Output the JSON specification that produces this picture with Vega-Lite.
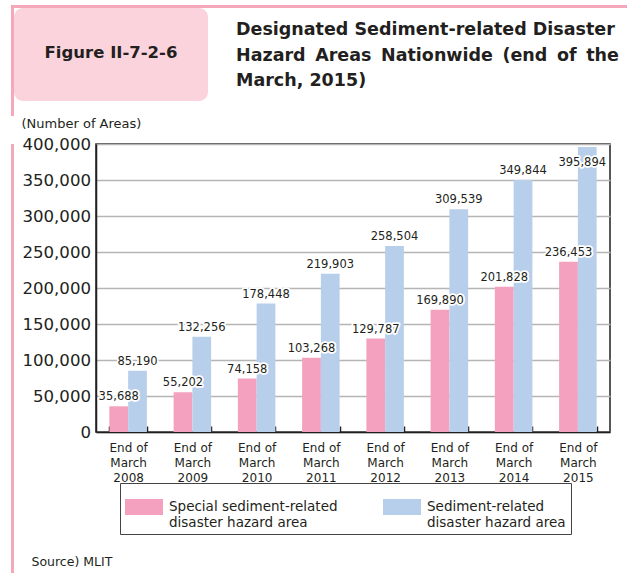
{
  "$schema": "https://vega.github.io/schema/vega-lite/v6.json",
  "background": "white",
  "padding": {"left": 11, "top": 5, "right": 0, "bottom": 0},
  "spacing": 0,
  "config": {
    "font": "DejaVu Sans",
    "view": {"stroke": null},
    "concat": {"spacing": 0}
  },
  "vconcat": [
    {
      "width": 616,
      "height": 3,
      "view": {"fill": "#f4a8b9", "stroke": null},
      "data": {"values": []},
      "mark": "rect",
      "encoding": {}
    },
    {
      "spacing": 0,
      "hconcat": [
        {
          "width": 3,
          "height": 108,
          "view": {"fill": "#f4a8b9", "stroke": null},
          "data": {"values": []},
          "mark": "rect",
          "encoding": {}
        },
        {
          "width": 194,
          "height": 93,
          "view": {"fill": "#fad3dc", "stroke": null, "cornerRadius": 9},
          "data": {"values": [{"label": "Figure II-7-2-6"}]},
          "mark": {"type": "text", "fontSize": 16.5, "fontWeight": "bold", "color": "#231f20", "dy": -2},
          "encoding": {"text": {"field": "label"}}
        },
        {
          "width": 1,
          "height": 93,
          "data": {"values": [{"heading": ["Designated Sediment-related Disaster", "Hazard \u2009Areas \u2009Nationwide \u2009(end \u2009of \u2009the", "March, 2015)"]}]},
          "mark": {"type": "text", "align": "left", "baseline": "middle", "lineHeight": 25.5, "dx": 27.5, "dy": -24.5, "fontSize": 17.5, "fontWeight": "bold", "color": "#231f20"},
          "encoding": {"text": {"field": "heading"}}
        }
      ]
    },
    {
      "spacing": 6,
      "hconcat": [
        {
          "width": 3,
          "height": 470,
          "view": {"fill": "#f4a8b9", "stroke": null},
          "data": {"values": []},
          "mark": "rect",
          "encoding": {}
        },
        {
          "width": 514,
          "height": 288,
          "view": {"stroke": "#231f20", "strokeWidth": 1.5},
          "data": {
            "values": [
              {"period": "End of March 2008", "type": "Special sediment-related disaster hazard area", "value": 35688},
              {"period": "End of March 2008", "type": "Sediment-related disaster hazard area", "value": 85190},
              {"period": "End of March 2009", "type": "Special sediment-related disaster hazard area", "value": 55202},
              {"period": "End of March 2009", "type": "Sediment-related disaster hazard area", "value": 132256},
              {"period": "End of March 2010", "type": "Special sediment-related disaster hazard area", "value": 74158},
              {"period": "End of March 2010", "type": "Sediment-related disaster hazard area", "value": 178448},
              {"period": "End of March 2011", "type": "Special sediment-related disaster hazard area", "value": 103268},
              {"period": "End of March 2011", "type": "Sediment-related disaster hazard area", "value": 219903},
              {"period": "End of March 2012", "type": "Special sediment-related disaster hazard area", "value": 129787},
              {"period": "End of March 2012", "type": "Sediment-related disaster hazard area", "value": 258504},
              {"period": "End of March 2013", "type": "Special sediment-related disaster hazard area", "value": 169890},
              {"period": "End of March 2013", "type": "Sediment-related disaster hazard area", "value": 309539},
              {"period": "End of March 2014", "type": "Special sediment-related disaster hazard area", "value": 201828},
              {"period": "End of March 2014", "type": "Sediment-related disaster hazard area", "value": 349844},
              {"period": "End of March 2015", "type": "Special sediment-related disaster hazard area", "value": 236453},
              {"period": "End of March 2015", "type": "Sediment-related disaster hazard area", "value": 395894}
            ]
          },
          "encoding": {
            "x": {
              "field": "period",
              "type": "nominal",
              "sort": null,
              "scale": {"paddingInner": 0.416, "paddingOuter": 0.208},
              "axis": {
                "title": "Source) MLIT",
                "titleX": -65,
                "titleY": 129,
                "titleAlign": "left",
                "titleBaseline": "middle",
                "titleFontSize": 12.5,
                "titleFontWeight": "normal",
                "titleColor": "#231f20",
                "labelAngle": 0,
                "labelExpr": "[slice(datum.label, 0, 6), slice(datum.label, 7, 12), slice(datum.label, 13)]",
                "labelFontSize": 12,
                "labelLineHeight": 15,
                "labelBaseline": "top",
                "labelPadding": 16,
                "labelColor": "#231f20",
                "tickBand": "extent",
                "tickSize": -6,
                "tickColor": "#231f20",
                "tickWidth": 1.5,
                "domainColor": "#231f20",
                "domainWidth": 1.5,
                "grid": false
              }
            },
            "xOffset": {
              "field": "type",
              "type": "nominal",
              "sort": ["Special sediment-related disaster hazard area", "Sediment-related disaster hazard area"],
              "scale": {"paddingInner": 0, "paddingOuter": 0}
            },
            "y": {
              "field": "value",
              "type": "quantitative",
              "scale": {"domain": [0, 400000], "nice": false},
              "axis": {
                "title": "(Number of Areas)",
                "titleAngle": 0,
                "titleX": -75,
                "titleY": -21,
                "titleAlign": "left",
                "titleBaseline": "middle",
                "titleFontSize": 13,
                "titleFontWeight": "normal",
                "titleColor": "#231f20",
                "values": [0, 50000, 100000, 150000, 200000, 250000, 300000, 350000, 400000],
                "format": ",d",
                "labelFontSize": 16.6,
                "labelPadding": 5.5,
                "labelColor": "#231f20",
                "ticks": false,
                "grid": true,
                "gridColor": "#b5b5b5",
                "gridWidth": 1.5,
                "domainColor": "#231f20",
                "domainWidth": 1.5
              }
            }
          },
          "layer": [
            {
              "mark": {"type": "bar"},
              "encoding": {
                "color": {
                  "field": "type",
                  "type": "nominal",
                  "scale": {
                    "domain": ["Special sediment-related disaster hazard area", "Sediment-related disaster hazard area"],
                    "range": ["#f3a1bf", "#b8cfeb"]
                  },
                  "legend": {
                    "orient": "none",
                    "legendX": 109,
                    "legendY": 478,
                    "direction": "horizontal",
                    "columns": 2,
                    "columnPadding": 45,
                    "title": null,
                    "symbolType": "M-1,-0.421H1V0.421H-1Z",
                    "symbolSize": 1444,
                    "symbolStrokeWidth": 0,
                    "labelFontSize": 13.5,
                    "labelLineHeight": 14.5,
                    "labelBaseline": "middle",
                    "labelOffset": 6,
                    "labelLimit": 400,
                    "labelColor": "#231f20",
                    "labelExpr": "datum.label == 'Special sediment-related disaster hazard area' ? ['Special sediment-related', 'disaster hazard area'] : ['Sediment-related', 'disaster hazard area']",
                    "padding": 5,
                    "strokeColor": "#444444",
                    "fillColor": "white"
                  }
                }
              }
            },
            {
              "transform": [{"filter": "!(datum.period == 'End of March 2015' && datum.type == 'Sediment-related disaster hazard area')"}],
              "mark": {"type": "text", "baseline": "middle", "dy": -9, "fontSize": 11.5, "stroke": "white", "strokeWidth": 3.5, "strokeJoin": "round", "color": "white"},
              "encoding": {"text": {"field": "value", "format": ","}}
            },
            {
              "transform": [{"filter": "!(datum.period == 'End of March 2015' && datum.type == 'Sediment-related disaster hazard area')"}],
              "mark": {"type": "text", "baseline": "middle", "dy": -9, "fontSize": 11.5, "color": "#231f20"},
              "encoding": {"text": {"field": "value", "format": ","}}
            },
            {
              "transform": [{"filter": "datum.period == 'End of March 2015' && datum.type == 'Sediment-related disaster hazard area'"}],
              "mark": {"type": "text", "baseline": "middle", "dy": 16, "dx": -5, "fontSize": 11.5, "stroke": "white", "strokeWidth": 3.5, "strokeJoin": "round", "color": "white"},
              "encoding": {"text": {"field": "value", "format": ","}}
            },
            {
              "transform": [{"filter": "datum.period == 'End of March 2015' && datum.type == 'Sediment-related disaster hazard area'"}],
              "mark": {"type": "text", "baseline": "middle", "dy": 16, "dx": -5, "fontSize": 11.5, "color": "#231f20"},
              "encoding": {"text": {"field": "value", "format": ","}}
            }
          ]
        }
      ]
    }
  ]
}
